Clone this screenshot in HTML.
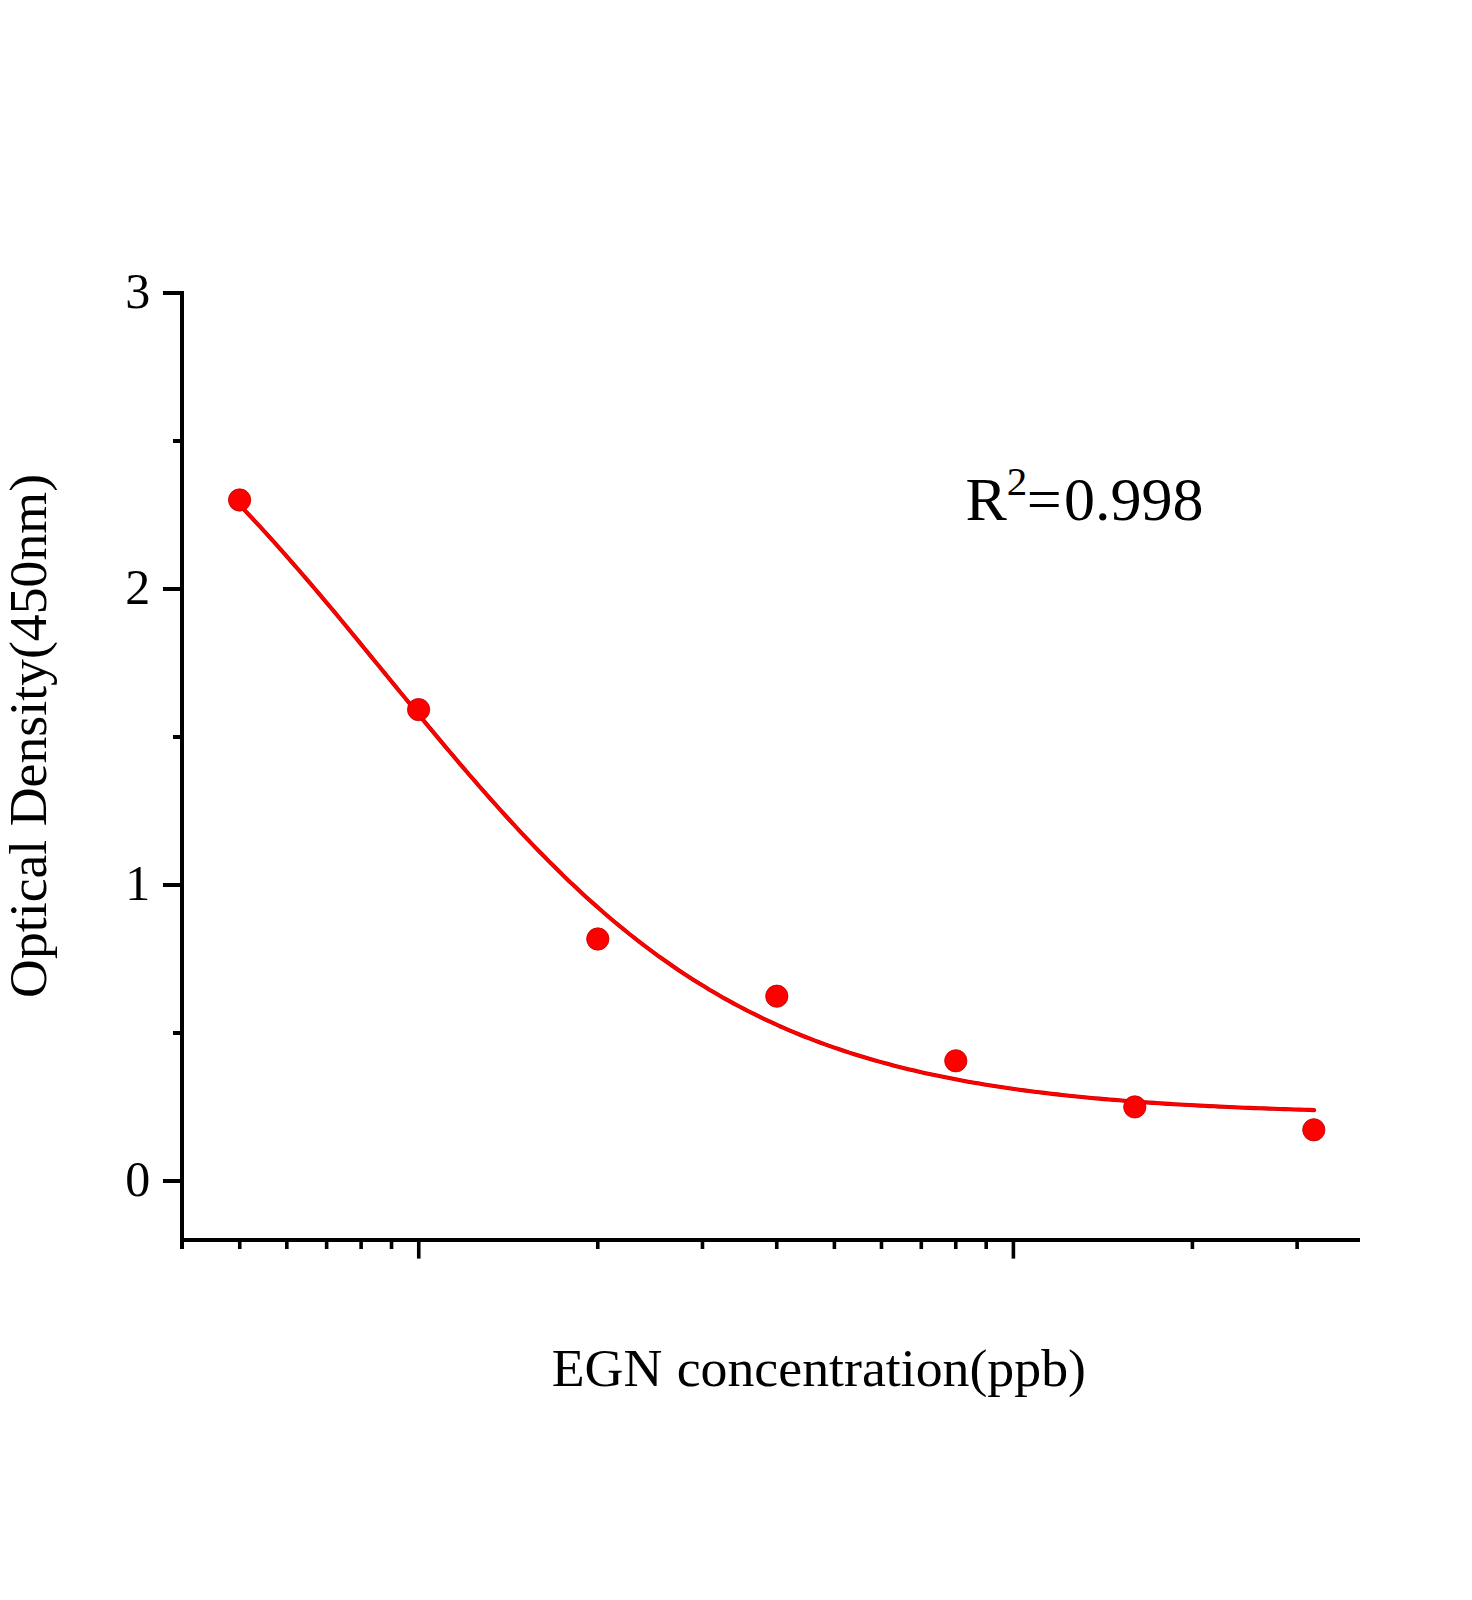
<!DOCTYPE html>
<html lang="en">
<head>
<meta charset="utf-8">
<title>EGN standard curve</title>
<style>
html,body{margin:0;padding:0;background:#fff;}
body{width:1472px;height:1600px;overflow:hidden;}
svg{display:block;}
text{font-family:"Liberation Serif",serif;fill:#000;}
</style>
</head>
<body>
<svg width="1472" height="1600" viewBox="0 0 1472 1600">
<rect x="0" y="0" width="1472" height="1600" fill="#ffffff"/>
<g fill="#000" shape-rendering="crispEdges">
<rect x="180" y="291" width="4" height="958"/>
<rect x="180" y="1238" width="1180" height="4"/>
<rect x="163" y="1179" width="18" height="4"/>
<rect x="163" y="883" width="18" height="4"/>
<rect x="163" y="587" width="18" height="4"/>
<rect x="163" y="291" width="18" height="4"/>
<rect x="173" y="1031" width="8" height="4"/>
<rect x="173" y="735" width="8" height="4"/>
<rect x="173" y="439" width="8" height="4"/>
</g>
<g fill="#000">
<rect x="416.95" y="1240" width="3.6" height="18.6"/>
<rect x="1011.60" y="1240" width="3.6" height="18.6"/>
<rect x="237.94" y="1240" width="3.6" height="9"/>
<rect x="285.03" y="1240" width="3.6" height="9"/>
<rect x="324.84" y="1240" width="3.6" height="9"/>
<rect x="359.32" y="1240" width="3.6" height="9"/>
<rect x="389.74" y="1240" width="3.6" height="9"/>
<rect x="595.96" y="1240" width="3.6" height="9"/>
<rect x="700.67" y="1240" width="3.6" height="9"/>
<rect x="774.96" y="1240" width="3.6" height="9"/>
<rect x="832.59" y="1240" width="3.6" height="9"/>
<rect x="879.68" y="1240" width="3.6" height="9"/>
<rect x="919.49" y="1240" width="3.6" height="9"/>
<rect x="953.97" y="1240" width="3.6" height="9"/>
<rect x="984.39" y="1240" width="3.6" height="9"/>
<rect x="1190.61" y="1240" width="3.6" height="9"/>
<rect x="1295.32" y="1240" width="3.6" height="9"/>
</g>
<text x="150.2" y="1195.7" font-size="50" text-anchor="end">0</text>
<text x="150.2" y="899.7" font-size="50" text-anchor="end">1</text>
<text x="150.2" y="603.7" font-size="50" text-anchor="end">2</text>
<text x="150.2" y="307.7" font-size="50" text-anchor="end">3</text>
<path d="M239.6,505.0 L244.6,510.2 L249.6,515.5 L254.6,520.8 L259.6,526.2 L264.6,531.7 L269.6,537.1 L274.6,542.7 L279.6,548.3 L284.6,553.9 L289.6,559.6 L294.6,565.3 L299.6,571.0 L304.6,576.8 L309.6,582.6 L314.6,588.5 L319.6,594.4 L324.6,600.3 L329.6,606.3 L334.6,612.2 L339.6,618.2 L344.6,624.2 L349.5,630.3 L354.5,636.3 L359.5,642.4 L364.5,648.5 L369.5,654.6 L374.5,660.7 L379.5,666.8 L384.5,672.9 L389.5,679.0 L394.5,685.1 L399.5,691.2 L404.5,697.3 L409.5,703.4 L414.5,709.5 L419.5,715.5 L424.5,721.6 L429.5,727.6 L434.5,733.6 L439.5,739.6 L444.5,745.6 L449.5,751.5 L454.5,757.4 L459.5,763.3 L464.5,769.2 L469.5,775.0 L474.5,780.7 L479.5,786.5 L484.5,792.2 L489.5,797.8 L494.5,803.4 L499.5,809.0 L504.5,814.5 L509.5,820.0 L514.5,825.4 L519.5,830.8 L524.5,836.1 L529.5,841.4 L534.5,846.6 L539.5,851.7 L544.5,856.8 L549.5,861.9 L554.5,866.8 L559.5,871.7 L564.4,876.6 L569.4,881.4 L574.4,886.1 L579.4,890.8 L584.4,895.4 L589.4,900.0 L594.4,904.4 L599.4,908.8 L604.4,913.2 L609.4,917.5 L614.4,921.7 L619.4,925.9 L624.4,929.9 L629.4,934.0 L634.4,937.9 L639.4,941.8 L644.4,945.7 L649.4,949.4 L654.4,953.1 L659.4,956.8 L664.4,960.3 L669.4,963.8 L674.4,967.3 L679.4,970.7 L684.4,974.0 L689.4,977.2 L694.4,980.4 L699.4,983.6 L704.4,986.6 L709.4,989.7 L714.4,992.6 L719.4,995.5 L724.4,998.4 L729.4,1001.1 L734.4,1003.9 L739.4,1006.5 L744.4,1009.1 L749.4,1011.7 L754.4,1014.2 L759.4,1016.7 L764.4,1019.1 L769.4,1021.4 L774.4,1023.7 L779.3,1026.0 L784.3,1028.2 L789.3,1030.3 L794.3,1032.4 L799.3,1034.5 L804.3,1036.5 L809.3,1038.4 L814.3,1040.4 L819.3,1042.2 L824.3,1044.1 L829.3,1045.9 L834.3,1047.6 L839.3,1049.3 L844.3,1051.0 L849.3,1052.6 L854.3,1054.2 L859.3,1055.8 L864.3,1057.3 L869.3,1058.8 L874.3,1060.2 L879.3,1061.6 L884.3,1063.0 L889.3,1064.3 L894.3,1065.7 L899.3,1066.9 L904.3,1068.2 L909.3,1069.4 L914.3,1070.6 L919.3,1071.7 L924.3,1072.9 L929.3,1074.0 L934.3,1075.1 L939.3,1076.1 L944.3,1077.1 L949.3,1078.1 L954.3,1079.1 L959.3,1080.0 L964.3,1081.0 L969.3,1081.9 L974.3,1082.7 L979.3,1083.6 L984.3,1084.4 L989.3,1085.2 L994.2,1086.0 L999.2,1086.8 L1004.2,1087.5 L1009.2,1088.3 L1014.2,1089.0 L1019.2,1089.7 L1024.2,1090.4 L1029.2,1091.0 L1034.2,1091.7 L1039.2,1092.3 L1044.2,1092.9 L1049.2,1093.5 L1054.2,1094.1 L1059.2,1094.6 L1064.2,1095.2 L1069.2,1095.7 L1074.2,1096.2 L1079.2,1096.7 L1084.2,1097.2 L1089.2,1097.7 L1094.2,1098.2 L1099.2,1098.6 L1104.2,1099.1 L1109.2,1099.5 L1114.2,1099.9 L1119.2,1100.3 L1124.2,1100.7 L1129.2,1101.1 L1134.2,1101.5 L1139.2,1101.9 L1144.2,1102.2 L1149.2,1102.6 L1154.2,1102.9 L1159.2,1103.2 L1164.2,1103.6 L1169.2,1103.9 L1174.2,1104.2 L1179.2,1104.5 L1184.2,1104.8 L1189.2,1105.0 L1194.2,1105.3 L1199.2,1105.6 L1204.2,1105.8 L1209.1,1106.1 L1214.1,1106.3 L1219.1,1106.6 L1224.1,1106.8 L1229.1,1107.0 L1234.1,1107.2 L1239.1,1107.5 L1244.1,1107.7 L1249.1,1107.9 L1254.1,1108.1 L1259.1,1108.3 L1264.1,1108.4 L1269.1,1108.6 L1274.1,1108.8 L1279.1,1109.0 L1284.1,1109.1 L1289.1,1109.3 L1294.1,1109.5 L1299.1,1109.6 L1304.1,1109.8 L1309.1,1109.9 L1314.1,1110.1" fill="none" stroke="#c40000" stroke-width="4.1" stroke-linecap="round" stroke-linejoin="round"/>
<path d="M239.6,505.0 L244.6,510.2 L249.6,515.5 L254.6,520.8 L259.6,526.2 L264.6,531.7 L269.6,537.1 L274.6,542.7 L279.6,548.3 L284.6,553.9 L289.6,559.6 L294.6,565.3 L299.6,571.0 L304.6,576.8 L309.6,582.6 L314.6,588.5 L319.6,594.4 L324.6,600.3 L329.6,606.3 L334.6,612.2 L339.6,618.2 L344.6,624.2 L349.5,630.3 L354.5,636.3 L359.5,642.4 L364.5,648.5 L369.5,654.6 L374.5,660.7 L379.5,666.8 L384.5,672.9 L389.5,679.0 L394.5,685.1 L399.5,691.2 L404.5,697.3 L409.5,703.4 L414.5,709.5 L419.5,715.5 L424.5,721.6 L429.5,727.6 L434.5,733.6 L439.5,739.6 L444.5,745.6 L449.5,751.5 L454.5,757.4 L459.5,763.3 L464.5,769.2 L469.5,775.0 L474.5,780.7 L479.5,786.5 L484.5,792.2 L489.5,797.8 L494.5,803.4 L499.5,809.0 L504.5,814.5 L509.5,820.0 L514.5,825.4 L519.5,830.8 L524.5,836.1 L529.5,841.4 L534.5,846.6 L539.5,851.7 L544.5,856.8 L549.5,861.9 L554.5,866.8 L559.5,871.7 L564.4,876.6 L569.4,881.4 L574.4,886.1 L579.4,890.8 L584.4,895.4 L589.4,900.0 L594.4,904.4 L599.4,908.8 L604.4,913.2 L609.4,917.5 L614.4,921.7 L619.4,925.9 L624.4,929.9 L629.4,934.0 L634.4,937.9 L639.4,941.8 L644.4,945.7 L649.4,949.4 L654.4,953.1 L659.4,956.8 L664.4,960.3 L669.4,963.8 L674.4,967.3 L679.4,970.7 L684.4,974.0 L689.4,977.2 L694.4,980.4 L699.4,983.6 L704.4,986.6 L709.4,989.7 L714.4,992.6 L719.4,995.5 L724.4,998.4 L729.4,1001.1 L734.4,1003.9 L739.4,1006.5 L744.4,1009.1 L749.4,1011.7 L754.4,1014.2 L759.4,1016.7 L764.4,1019.1 L769.4,1021.4 L774.4,1023.7 L779.3,1026.0 L784.3,1028.2 L789.3,1030.3 L794.3,1032.4 L799.3,1034.5 L804.3,1036.5 L809.3,1038.4 L814.3,1040.4 L819.3,1042.2 L824.3,1044.1 L829.3,1045.9 L834.3,1047.6 L839.3,1049.3 L844.3,1051.0 L849.3,1052.6 L854.3,1054.2 L859.3,1055.8 L864.3,1057.3 L869.3,1058.8 L874.3,1060.2 L879.3,1061.6 L884.3,1063.0 L889.3,1064.3 L894.3,1065.7 L899.3,1066.9 L904.3,1068.2 L909.3,1069.4 L914.3,1070.6 L919.3,1071.7 L924.3,1072.9 L929.3,1074.0 L934.3,1075.1 L939.3,1076.1 L944.3,1077.1 L949.3,1078.1 L954.3,1079.1 L959.3,1080.0 L964.3,1081.0 L969.3,1081.9 L974.3,1082.7 L979.3,1083.6 L984.3,1084.4 L989.3,1085.2 L994.2,1086.0 L999.2,1086.8 L1004.2,1087.5 L1009.2,1088.3 L1014.2,1089.0 L1019.2,1089.7 L1024.2,1090.4 L1029.2,1091.0 L1034.2,1091.7 L1039.2,1092.3 L1044.2,1092.9 L1049.2,1093.5 L1054.2,1094.1 L1059.2,1094.6 L1064.2,1095.2 L1069.2,1095.7 L1074.2,1096.2 L1079.2,1096.7 L1084.2,1097.2 L1089.2,1097.7 L1094.2,1098.2 L1099.2,1098.6 L1104.2,1099.1 L1109.2,1099.5 L1114.2,1099.9 L1119.2,1100.3 L1124.2,1100.7 L1129.2,1101.1 L1134.2,1101.5 L1139.2,1101.9 L1144.2,1102.2 L1149.2,1102.6 L1154.2,1102.9 L1159.2,1103.2 L1164.2,1103.6 L1169.2,1103.9 L1174.2,1104.2 L1179.2,1104.5 L1184.2,1104.8 L1189.2,1105.0 L1194.2,1105.3 L1199.2,1105.6 L1204.2,1105.8 L1209.1,1106.1 L1214.1,1106.3 L1219.1,1106.6 L1224.1,1106.8 L1229.1,1107.0 L1234.1,1107.2 L1239.1,1107.5 L1244.1,1107.7 L1249.1,1107.9 L1254.1,1108.1 L1259.1,1108.3 L1264.1,1108.4 L1269.1,1108.6 L1274.1,1108.8 L1279.1,1109.0 L1284.1,1109.1 L1289.1,1109.3 L1294.1,1109.5 L1299.1,1109.6 L1304.1,1109.8 L1309.1,1109.9 L1314.1,1110.1" fill="none" stroke="#ff0000" stroke-width="3.0" stroke-linecap="round" stroke-linejoin="round"/>
<circle cx="239.6" cy="500.0" r="11.15" fill="#ff0000" stroke="#c00000" stroke-width="0.8"/>
<circle cx="418.6" cy="709.6" r="11.15" fill="#ff0000" stroke="#c00000" stroke-width="0.8"/>
<circle cx="597.8" cy="939.0" r="11.15" fill="#ff0000" stroke="#c00000" stroke-width="0.8"/>
<circle cx="776.8" cy="996.2" r="11.15" fill="#ff0000" stroke="#c00000" stroke-width="0.8"/>
<circle cx="955.8" cy="1060.8" r="11.15" fill="#ff0000" stroke="#c00000" stroke-width="0.8"/>
<circle cx="1134.8" cy="1106.9" r="11.15" fill="#ff0000" stroke="#c00000" stroke-width="0.8"/>
<circle cx="1313.8" cy="1129.8" r="11.15" fill="#ff0000" stroke="#c00000" stroke-width="0.8"/>
<text x="551.7" y="1386.1" font-size="53.8" word-spacing="1">EGN concentration(ppb)</text>
<text transform="translate(45.9,997.9) rotate(-90)" font-size="53.75">Optical Density(450nm)</text>
<text x="965.4" y="520.3" font-size="62">R<tspan font-size="41" dy="-25.8">2</tspan><tspan dy="25.8" dx="-0.5">=</tspan><tspan dx="2.2">0.998</tspan></text>
</svg>
</body>
</html>
